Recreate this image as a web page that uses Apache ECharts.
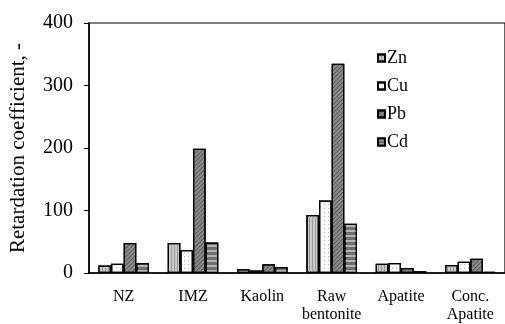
<!DOCTYPE html>
<html>
<head>
<meta charset="utf-8">
<script src="https://cdn.jsdelivr.net/npm/echarts@6/dist/echarts.min.js"></script>
<style>html,body{margin:0;padding:0;background:#fff}#c{width:505px;height:324px}</style>
</head>
<body>
<div id="c"></div>
<script>
const categories = ['NZ', 'IMZ', 'Kaolin', 'Raw\nbentonite', 'Apatite', 'Conc.\nApatite'];
const zn = [12, 48, 6, 93, 15, 13];
const cu = [15, 37, 4, 116, 16, 18];
const pb = [48, 199, 14, 335, 8, 23];
const cd = [16, 49, 9.5, 79, 3, 2];
const yTicks = [0, 100, 200, 300, 400];

const FONT = '"Liberation Serif", "Times New Roman", serif';
const chart = echarts.init(document.getElementById('c'), null, {renderer: 'canvas'});

function bar(name, data, color, decal) {
  return {
    name: name, type: 'bar', data: data,
    barGap: '0%', barCategoryGap: '27%',
    itemStyle: {color: color, borderColor: '#000', borderWidth: 1.3, decal: decal},
    emphasis: {disabled: true}
  };
}

chart.setOption({
  animation: false,
  backgroundColor: '#fff',
  textStyle: {fontFamily: FONT},
  grid: {left: 87, top: 23, bottom: 47, right: -2, show: true, borderColor: '#000', borderWidth: 1.2, containLabel: false},
  legend: {
    orient: 'vertical', left: 372, top: 44,
    itemWidth: 7, itemHeight: 7, itemGap: 10, icon: 'rect',
    textStyle: {fontFamily: FONT, fontSize: 18, color: '#000', padding: [0, 0, 0, -3]},
    data: ['Zn', 'Cu', 'Pb', 'Cd']
  },
  xAxis: {
    type: 'category', data: categories,
    axisLine: {lineStyle: {color: '#000', width: 1.5}},
    axisTick: {show: false},
    axisLabel: {fontFamily: FONT, fontSize: 16, color: '#000', margin: 15, lineHeight: 18, interval: 0}
  },
  yAxis: {
    type: 'value', min: 0, max: 400, interval: 100,
    name: 'Retardation coefficient, -', nameLocation: 'middle', nameGap: 60,
    nameTextStyle: {fontFamily: FONT, fontSize: 21, color: '#000'},
    axisLine: {show: true, lineStyle: {color: '#000', width: 1.5}},
    axisTick: {show: true, length: 5, lineStyle: {color: '#000'}},
    axisLabel: {fontFamily: FONT, fontSize: 20, color: '#000', margin: 16,
      formatter: v => yTicks.includes(v) ? String(v) : ''},
    splitLine: {show: false}
  },
  series: [
    bar('Zn', zn, '#cacaca', {symbol: 'rect', symbolSize: 1, color: '#999999', dashArrayX: [1, 2], dashArrayY: [1, 0]}),
    bar('Cu', cu, '#ffffff', {symbol: 'rect', symbolSize: 1, color: '#b8b8b8', dashArrayX: [1, 3], dashArrayY: [1, 3]}),
    bar('Pb', pb, '#8c8c8c', {symbol: 'rect', symbolSize: 1, color: '#5a5a5a', dashArrayX: [1, 0], dashArrayY: [1, 1.5], rotation: -Math.PI / 4}),
    bar('Cd', cd, '#6e6e6e', {symbol: 'rect', symbolSize: 1, color: '#b4b4b4', dashArrayX: [1, 0], dashArrayY: [2, 3]})
  ]
});
</script>
</body>
</html>
